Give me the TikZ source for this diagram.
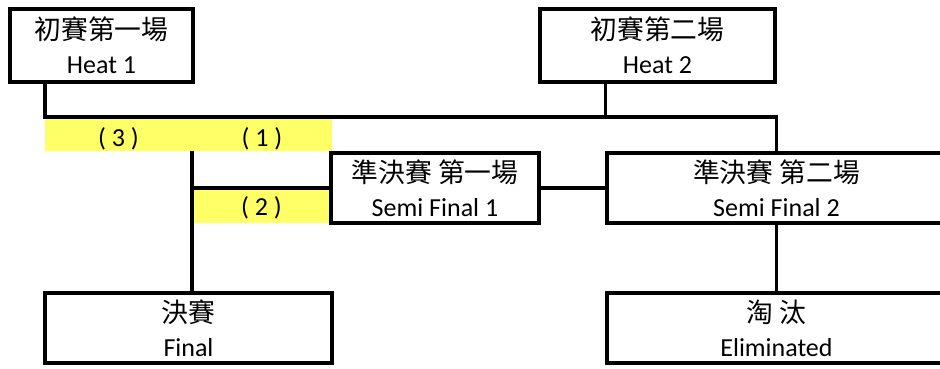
\documentclass[tikz,border=0pt]{standalone}
\usepackage{fontspec}
\setmainfont{Carlito}
\newfontfamily\cjk{Noto Sans CJK TC}[Scale=1.03]
\definecolor{band}{HTML}{FFFF66}
\tikzset{
  round/.style={draw, line width=3.2pt, inner sep=0pt, align=center,
    font=\fontsize{26}{34}\selectfont},
  mark band/.style={fill=band, inner sep=0pt, minimum height=32pt,
    text height=24pt, text depth=2pt, font=\fontsize{26}{30}\selectfont},
  link/.style={line width=3.2pt}
}
\begin{document}
\begin{tikzpicture}[x=1pt,y=-1pt]
		\useasboundingbox (0,0) rectangle (940,369);
		% yellow marks
		\node[mark band, minimum width=147pt] (b3) at (118.5,135) {( 3 )};
		\node[mark band, minimum width=140pt] (b1) at (262,135) {( 1 )};
		\node[mark band, minimum width=139pt, minimum height=34pt, text height=21pt, text depth=3pt] (b2) at (261.5,206) {( 2 )};
		% rounds
		\node[round, minimum width=183pt, minimum height=73pt] (h1) at (101.5,45.5) {{\cjk 初賽第一場}\\Heat 1};
		\node[round, minimum width=235pt, minimum height=73pt] (h2) at (657.5,45.5) {{\cjk 初賽第二場}\\Heat 2};
		\node[round, minimum width=208pt, minimum height=70pt] (sf1) at (435,188) {{\cjk 準決賽 第一場}\\Semi Final 1};
		\node[round, minimum width=339pt, minimum height=70pt] (sf2) at (776.5,188) {{\cjk 準決賽 第二場}\\Semi Final 2};
		\node[round, minimum width=287pt, minimum height=70pt] (fin) at (188.5,328) {{\cjk 決賽}\\Final};
		\node[round, minimum width=339pt, minimum height=70pt] (elim) at (776.5,328) {{\cjk 淘 汰}\\Eliminated};
		\coordinate (tl) at (45,117);
		\coordinate (mid) at (192,151);
		% connectors
		\draw[link] (h1.south -| tl) -- (tl) -| (sf2.north);
		\draw[link] (h2.south -| sf2.west) -- (sf2.west |- tl);
		\draw[link] (mid) -- (mid |- fin.north);
		\draw[link] (mid |- sf1.west) -- (sf1.west);
		\draw[link] (sf1.east) -- (sf2.west);
		\draw[link] (sf2.south) -- (elim.north);
\end{tikzpicture}
\end{document}
